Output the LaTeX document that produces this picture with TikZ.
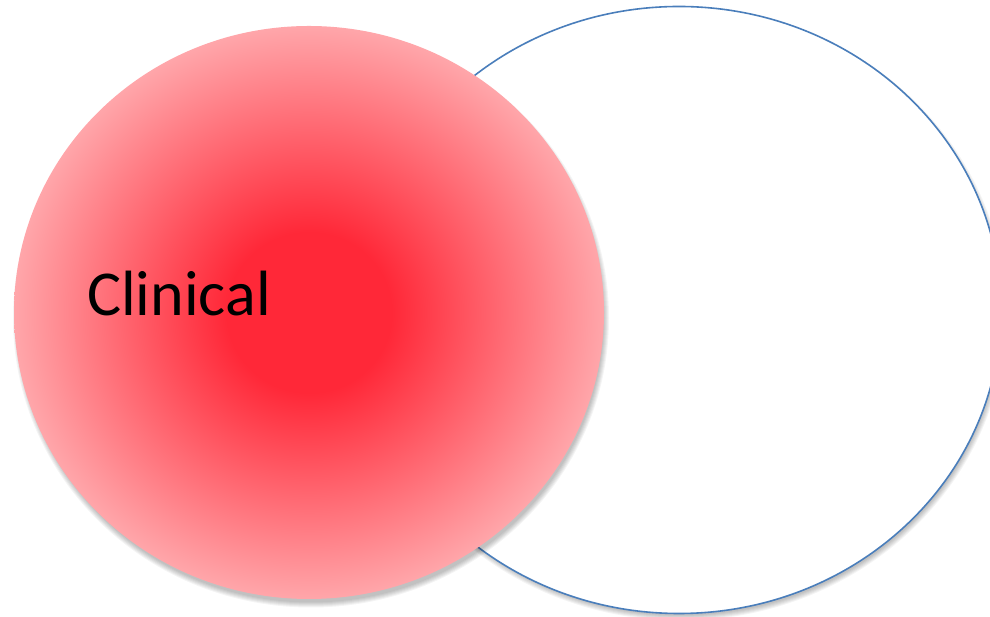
\documentclass[tikz,border=0pt]{standalone}
\usepackage{fontspec}
\setmainfont{Carlito}
\definecolor{clinIn}{RGB}{255,40,56}
\definecolor{clinOut}{RGB}{255,166,170}
\definecolor{ringBlue}{RGB}{74,126,187}
\pgfdeclareradialshading{clinshade}{\pgfpoint{0bp}{0bp}}{%
  color(0bp)=(clinIn); color(7bp)=(clinIn); color(25bp)=(clinOut); color(50bp)=(clinOut)}
\begin{document}
\begin{tikzpicture}[x=1pt,y=1pt,
    haze/.style={fill=black,fill opacity=0.045,draw=none}]
        \useasboundingbox (0,0) rectangle (990,617);
        \clip (0,0) rectangle (990,617);
        \fill[white] (0,0) rectangle (990,617);
        % soft shadow of the ring
        \foreach \k in {0,...,5}
            \path[haze] (681,303) ellipse[x radius=320+\k,y radius=301.5+\k];
        \draw[ringBlue,line width=1.6pt,fill=white] (679,307) ellipse[x radius=322,y radius=303.5];
        % soft shadow of the disc
        \foreach \k in {0,...,5}
            \path[haze] (311,299) ellipse[x radius=293+\k,y radius=284.5+\k];
        \path[shading=clinshade] (309,304.5) ellipse[x radius=295,y radius=286.5];
        \node[anchor=base west,inner sep=0pt,font=\fontsize{64}{72}\selectfont] (clinical) at (87,301) {Clinical};
    \end{tikzpicture}
\end{document}
